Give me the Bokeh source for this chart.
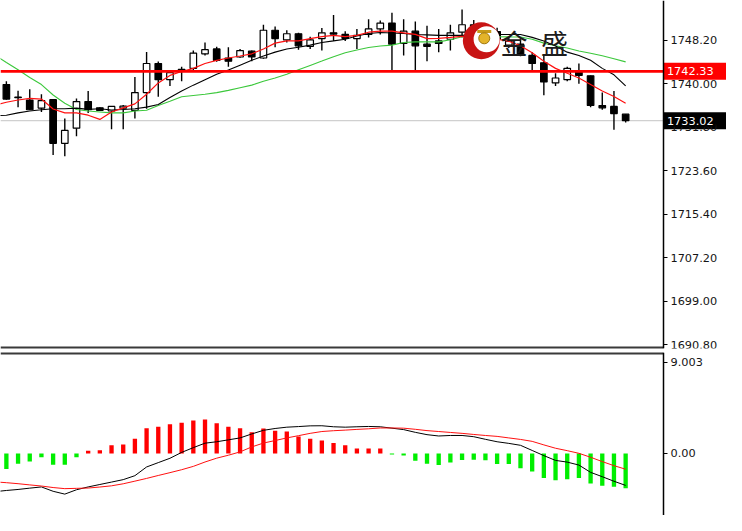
import numpy as np
from bokeh.plotting import figure
from bokeh.layouts import column
from bokeh.models import (Range1d, FixedTicker, NumeralTickFormatter, CustomJSTickFormatter,
                          Label, ColumnDataSource)
from bokeh.embed import file_html
from bokeh.resources import INLINE

# ---------------- data ----------------
bar_open = [1739.84, 1737.45, 1736.92, 1735.40, 1736.99, 1728.76, 1731.61, 1736.62, 1735.45, 1734.85,
            1735.40, 1734.98, 1738.32, 1743.81, 1740.76, 1742.35, 1742.89, 1745.64, 1746.55, 1744.85,
            1745.03, 1746.13, 1744.85, 1750.08, 1748.25, 1749.42, 1747.04, 1748.51, 1749.60, 1749.29,
            1748.51, 1749.29, 1750.33, 1751.43, 1747.59, 1749.90, 1747.46, 1748.07, 1748.38, 1749.71,
            1751.12, 1749.11, 1749.84, 1747.28, 1747.46, 1745.33, 1743.94, 1740.15, 1740.76, 1742.29,
            1741.49, 1735.89, 1735.71, 1734.25]
bar_high = [1740.46, 1738.69, 1738.93, 1738.01, 1737.04, 1733.44, 1737.23, 1738.63, 1735.58, 1735.76,
            1736.00, 1741.25, 1746.00, 1744.17, 1742.35, 1743.20, 1746.24, 1747.77, 1746.97, 1746.86,
            1746.55, 1746.24, 1751.12, 1750.81, 1750.08, 1749.60, 1748.87, 1750.52, 1752.95, 1749.90,
            1750.33, 1752.16, 1751.91, 1753.37, 1752.16, 1751.72, 1750.94, 1750.33, 1751.12, 1753.99,
            1752.03, 1750.75, 1750.57, 1748.74, 1748.38, 1745.95, 1745.22, 1741.98, 1743.20, 1743.81,
            1741.56, 1738.32, 1738.63, 1734.25]
bar_low = [1736.95, 1735.58, 1735.03, 1734.67, 1726.57, 1726.31, 1730.10, 1734.49, 1734.85, 1731.43,
           1731.43, 1733.44, 1735.27, 1737.54, 1739.55, 1740.46, 1742.58, 1745.33, 1744.12, 1743.20,
           1744.90, 1744.23, 1744.72, 1746.86, 1747.77, 1746.42, 1746.55, 1746.24, 1748.07, 1748.07,
           1746.55, 1748.69, 1749.29, 1742.58, 1745.33, 1742.58, 1744.23, 1745.95, 1746.24, 1748.69,
           1749.11, 1748.38, 1747.65, 1746.73, 1745.18, 1742.58, 1737.83, 1739.55, 1740.46, 1739.97,
           1735.58, 1735.09, 1731.32, 1732.66]
bar_close = [1737.10, 1737.35, 1735.09, 1736.81, 1728.76, 1731.19, 1736.62, 1735.09, 1734.98, 1735.71,
             1735.76, 1738.32, 1743.81, 1740.76, 1742.07, 1742.71, 1745.76, 1746.42, 1744.41, 1744.23,
             1746.24, 1745.03, 1750.08, 1748.51, 1749.42, 1747.15, 1748.25, 1749.60, 1749.35, 1748.56,
             1749.11, 1750.33, 1751.43, 1747.46, 1749.90, 1747.15, 1747.04, 1747.59, 1749.60, 1751.12,
             1749.66, 1750.21, 1748.38, 1748.01, 1745.33, 1743.81, 1740.33, 1741.07, 1742.89, 1741.56,
             1735.89, 1735.45, 1734.36, 1733.02]

# moving averages, bar -1 (partly off the left edge) .. 53
ma_fast = [1735.95, 1736.50, 1736.92, 1737.23, 1737.10, 1735.22, 1734.49, 1734.49, 1734.06, 1733.26,
           1734.67, 1735.45, 1736.19, 1738.01, 1740.15, 1741.56, 1742.29, 1742.89, 1743.81, 1744.41,
           1744.85, 1745.22, 1745.64, 1746.55, 1747.65, 1748.07, 1748.07, 1748.51, 1748.87, 1749.11,
           1748.87, 1749.11, 1749.71, 1749.90, 1749.90, 1749.60, 1749.29, 1748.51, 1748.56, 1748.74,
           1748.93, 1748.93, 1748.74, 1748.38, 1748.01, 1747.15, 1745.82, 1744.23, 1742.89, 1741.98,
           1741.07, 1739.84, 1738.63, 1737.59, 1736.31]
ma_mid = [1733.94, 1734.06, 1734.49, 1734.85, 1735.09, 1735.27, 1735.27, 1735.40, 1735.16, 1735.27,
          1735.03, 1735.12, 1735.27, 1735.58, 1736.08, 1737.41, 1738.63, 1739.73, 1740.76, 1741.80,
          1742.58, 1743.50, 1744.41, 1745.22, 1745.95, 1746.55, 1746.86, 1747.28, 1747.77, 1748.07,
          1748.38, 1748.98, 1749.47, 1749.66, 1749.57, 1749.47, 1749.29, 1749.20, 1749.11, 1749.11,
          1749.11, 1749.20, 1749.29, 1749.29, 1749.29, 1749.29, 1748.74, 1748.07, 1747.10, 1745.95,
          1745.33, 1744.41, 1742.89, 1741.67, 1739.60]
ma_slow = [1745.45, 1743.99, 1742.62, 1741.16, 1739.84, 1737.87, 1736.31, 1735.12, 1734.85, 1734.67,
           1734.49, 1734.49, 1734.85, 1734.98, 1735.89, 1736.68, 1737.54, 1737.78, 1738.01, 1738.32,
           1738.74, 1739.24, 1739.73, 1740.46, 1741.07, 1741.80, 1742.62, 1743.44, 1744.26, 1745.09,
           1745.82, 1746.37, 1746.82, 1747.10, 1747.28, 1747.77, 1747.88, 1747.88, 1747.88, 1748.29,
           1748.87, 1748.93, 1748.93, 1748.87, 1748.83, 1748.80, 1748.38, 1747.65, 1747.15, 1746.73,
           1746.18, 1745.73, 1745.27, 1744.72, 1744.12]

macd_hist = [-1.53, -1.02, -0.80, -0.38, -1.12, -1.12, -0.38, 0.26, 0.32, 0.80,
             0.89, 1.44, 2.49, 2.62, 2.87, 3.03, 3.26, 3.35, 2.97, 2.62,
             2.49, 2.08, 2.46, 2.24, 2.17, 1.66, 1.44, 1.28, 1.02, 0.80,
             0.48, 0.48, 0.48, -0.10, -0.20, -0.73, -1.02, -1.15, -0.89, -0.64,
             -0.62, -0.67, -1.05, -1.05, -1.47, -1.79, -2.43, -2.65, -2.55, -2.43,
             -2.97, -3.19, -3.29, -3.45]
macd_line = [-3.78, -3.66, -3.56, -3.43, -3.31, -3.74, -4.02, -3.59, -3.31, -3.07,
             -2.83, -2.59, -2.20, -1.34, -0.91, -0.48, 0.10, 0.57, 1.01, 1.15,
             1.34, 1.53, 1.92, 2.28, 2.46, 2.59, 2.65, 2.72, 2.73, 2.63,
             2.59, 2.63, 2.66, 2.63, 2.49, 2.35, 2.08, 1.85, 1.72, 1.77,
             1.77, 1.65, 1.39, 1.15, 0.99, 0.80, 0.29, -0.22, -0.69, -0.86,
             -1.15, -1.87, -2.30, -2.75, -3.16]
macd_signal = [-2.81, -2.89, -2.99, -3.11, -3.22, -3.37, -3.48, -3.45, -3.42, -3.32,
               -3.20, -3.00, -2.74, -2.47, -2.18, -1.90, -1.61, -1.28, -0.85, -0.47,
               -0.18, 0.15, 0.64, 1.02, 1.27, 1.53, 1.75, 1.98, 2.16, 2.24,
               2.30, 2.37, 2.43, 2.51, 2.51, 2.49, 2.38, 2.25, 2.16, 2.07,
               1.98, 1.87, 1.77, 1.68, 1.53, 1.38, 1.19, 0.84, 0.51, 0.27,
               0.01, -0.38, -0.81, -1.21, -1.56]

price_ticks = [1690.80, 1699.00, 1707.20, 1715.40, 1723.60, 1731.80, 1740.00, 1748.20, 1756.40]
macd_ticks = [9.003, 0.0]
level_price = 1742.33
last_price = 1733.02
logo_text = "金\u2002盛"

# ---------------- layout constants ----------------
W = 726
X_START = -0.503
AXIS_X = 56.24                     # bar position of the price-scale line
X_END = X_START + (AXIS_X - X_START) * W / 663.0   # frame spans the whole width
PRICE_RANGE = (1690.06, 1755.69)
MACD_RANGE = (-6.131, 9.963)
FONT = "DejaVu Sans"
FS = "11.3px"
TAG_HALF = 1.6                     # half height of the price tags, in price units

x_bar = np.arange(len(bar_open))
x_line = np.arange(-1, len(bar_open))


def style_axis(ax):
    ax.fixed_location = AXIS_X
    ax.major_tick_out = 4
    ax.major_tick_in = 0
    ax.minor_tick_out = 0
    ax.minor_tick_in = 0
    ax.major_label_standoff = 3
    ax.axis_line_color = "black"
    ax.axis_line_width = 1.5
    ax.major_tick_line_color = "black"
    ax.major_label_text_font = FONT
    ax.major_label_text_font_size = FS
    ax.major_label_text_color = "#151515"


def new_fig(height, yr, top, bottom):
    f = figure(width=W, height=height, output_backend="svg", toolbar_location=None,
               x_range=Range1d(X_START, X_END), y_range=Range1d(*yr),
               x_axis_location=None, y_axis_location="right",
               min_border_left=0, min_border_right=0, min_border_top=top, min_border_bottom=bottom)
    f.outline_line_color = None
    f.grid.grid_line_color = None
    f.background_fill_color = "white"
    f.border_fill_color = "white"
    return f


# ---------------- main price panel ----------------
main = new_fig(352, PRICE_RANGE, 0, 4)
ax = main.yaxis[0]
ax.ticker = FixedTicker(ticks=price_ticks)
ax.formatter = NumeralTickFormatter(format="0.00")
style_axis(ax)

main.segment(x0=[X_START], x1=[AXIS_X], y0=[last_price], y1=[last_price],
             line_color="#c4c4c4", line_width=1)

o = np.array(bar_open); c = np.array(bar_close)
src = ColumnDataSource(dict(
    x=x_bar, high=bar_high, low=bar_low,
    top=np.maximum(o, c), bottom=np.minimum(o, c),
    fill=["white" if cc >= oo else "black" for oo, cc in zip(o, c)],
))
main.segment(x0="x", y0="low", x1="x", y1="high", line_color="black", line_width=1.4, source=src)
main.vbar(x="x", width=0.56, top="top", bottom="bottom", fill_color="fill",
          line_color="black", line_width=1.2, source=src)

main.line(x_line, ma_slow, line_color="#3cc83c", line_width=1.1)
main.line(x_line, ma_mid, line_color="black", line_width=1.1)
main.line(x_line, ma_fast, line_color="#ff1010", line_width=1.2)

main.segment(x0=[X_START], x1=[AXIS_X], y0=[level_price], y1=[level_price],
             line_color="#ff0000", line_width=2.6)
# panel separator
main.segment(x0=[X_START], x1=[AXIS_X], y0=[PRICE_RANGE[0]], y1=[PRICE_RANGE[0]],
             line_color="#3a3a3a", line_width=4)

# watermark logo
main.scatter(x=[40.65], y=[1748.10], size=37, marker="circle", fill_color="#c81414", line_color=None)
main.scatter(x=[41.1], y=[1748.38], size=26, marker="circle", fill_color="white", line_color=None)
main.rect(x=[40.9], y=[1749.85], width=14, height=3, width_units="screen", height_units="screen",
          fill_color="#c89a18", line_color=None)
main.scatter(x=[40.9], y=[1748.56], size=11, marker="circle", fill_color="#e4b42a", line_color="#a07810")
main.add_layout(Label(x=42.3, y=1747.70, text=logo_text, text_font="Noto Sans CJK SC",
                      text_font_size="27px", text_color="#1c1c1c", text_baseline="middle"))

# price tags on the scale
main.quad(left=[AXIS_X, AXIS_X], right=[X_END, X_END],
          bottom=[level_price - TAG_HALF, last_price - TAG_HALF],
          top=[level_price + TAG_HALF, last_price + TAG_HALF],
          fill_color=["#ff0000", "black"], line_color=None)
for val, col in ((level_price, "#ff0000"), (last_price, "black")):
    main.add_layout(Label(x=AXIS_X + 0.12, y=val, text=f"{val:.2f}", text_color="white",
                          text_font=FONT, text_font_size=FS, text_baseline="middle",
                          background_fill_color=col, padding=2))

# ---------------- MACD panel ----------------
macd = new_fig(163, MACD_RANGE, 0, 0)
ax2 = macd.yaxis[0]
ax2.ticker = FixedTicker(ticks=macd_ticks)
ax2.formatter = CustomJSTickFormatter(code="return tick === 0 ? '0.00' : tick.toFixed(3);")
style_axis(ax2)

hist_colors = ["#ff0000" if v >= 0 else "#00ee00" for v in macd_hist]
macd.vbar(x=x_bar, width=0.37, top=macd_hist, bottom=0, fill_color=hist_colors, line_color=None)
macd.line(x_line, macd_line, line_color="black", line_width=1)
macd.line(x_line, macd_signal, line_color="#ff1010", line_width=1)
macd.segment(x0=[X_START], x1=[AXIS_X], y0=[MACD_RANGE[1]], y1=[MACD_RANGE[1]],
             line_color="#3a3a3a", line_width=4)

layout = column(main, macd, spacing=0)
open("out.html", "w").write(file_html(layout, INLINE))
